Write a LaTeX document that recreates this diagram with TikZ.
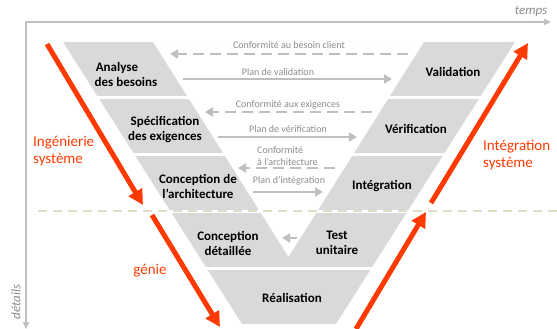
\documentclass[tikz,border=0pt]{standalone}
\usepackage{fontspec}
\setmainfont{Carlito}
\usetikzlibrary{arrows.meta, positioning}

\definecolor{vgray}{RGB}{217,217,217}
\definecolor{agray}{RGB}{191,191,191}
\definecolor{tgray}{RGB}{140,140,140}
\definecolor{vred}{RGB}{255,58,0}
\definecolor{vtan}{RGB}{224,220,200}

\begin{document}
\begin{tikzpicture}[
    x=1pt, y=-1pt,
    piece/.style={fill=vgray},
    box/.style={
        font=\fontsize{13}{15}\selectfont\bfseries, align=center, inner sep=0pt
    },
    note/.style={font=\fontsize{10}{12}\selectfont, text=tgray, inner sep=0pt},
    plan/.style={draw=agray, line width=2.5pt, -{Triangle[length=8pt,width=9pt]}},
    conf/.style={plan, dash pattern=on 11pt off 6pt},
    flow/.style={draw=vred, line width=5pt, -{Triangle[length=15pt,width=15pt]}},
    side/.style={font=\fontsize{15}{17}\selectfont, text=vred, align=left, inner sep=0pt},
    axis/.style={draw=agray, line width=1.5pt},
    axlbl/.style={font=\fontsize{13}{15}\selectfont\itshape, text=tgray, inner sep=0pt}
]
\useasboundingbox (0,0) rectangle (557,329);

% Axes
\coordinate (origin) at (26,22);
\coordinate (tend) at (551,22);
\coordinate (dend) at (26,329);
\draw[axis, {Triangle[length=7pt,width=6pt]}-{Triangle[length=7pt,width=6pt]}]
    (tend) -- (origin) -- (dend);
\node[axlbl] (temps) at (531,11) {temps};
\node[axlbl, rotate=90] (details) at (16,302) {détails};

% Gray V, cut into five bands
\foreach \t in {42,99,156,213,270}{
  \begin{scope}
    \clip (0,\t) rectangle (557,{\t+53});
    \fill[piece, even odd rule] (63,42) -- (515,42) -- (336,324) -- (242,324) -- cycle
        (153,42) -- (424,42) -- (288.5,257) -- cycle;
  \end{scope}
}

% Boundary between system and detail levels
\coordinate (sepl) at (38,211);
\coordinate (sepr) at (557,211);
\draw[vtan, line width=2.5pt, dash pattern=on 9pt off 6pt] (sepl) -- (sepr);

% Left branch
\node[box] (analyse) at (126,74) {Analyse\hspace*{18pt}\\des besoins};
\node[box] (specif) at (165,130) {Spécification\\des exigences};
\node[box] (archi) at (198,186) {Conception de\\l’architecture};
\node[box] (detail) at (228,243) {Conception\\détaillée};

% Bottom
\node[box] (real) at (292,298) {Réalisation};

% Right branch
\node[box] (unit) at (337,243) {Test\\unitaire};
\node[box] (integ) at (382,186) {Intégration};
\node[box] (verif) at (416,129) {Vérification};
\node[box] (valid) at (453,72) {Validation};

% Links across the V
\coordinate (c1r) at (408,54);  \coordinate (c1l) at (170,54);
\coordinate (p1l) at (183,79);  \coordinate (p1r) at (392,79);
\coordinate (c2r) at (372,112); \coordinate (c2l) at (205,112);
\coordinate (p2l) at (218,137); \coordinate (p2r) at (357,137);
\coordinate (c3r) at (335,168); \coordinate (c3l) at (238,168);
\coordinate (p3l) at (253,192); \coordinate (p3r) at (323,192);
\coordinate (c4r) at (297,238); \coordinate (c4l) at (282,238);

\draw[conf] (c1r) -- (c1l);
\draw[plan] (p1l) -- (p1r);
\draw[conf] (c2r) -- (c2l);
\draw[plan] (p2l) -- (p2r);
\draw[conf] (c3r) -- (c3l);
\draw[plan] (p3l) -- (p3r);
\draw[conf] (c4r) -- (c4l);

\node[note] (n1) at (289,45) {Conformité au besoin client};
\node[note] (n2) at (278,72) {Plan de validation};
\node[note] (n3) at (288,105) {Conformité aux exigences};
\node[note] (n4) at (288,129) {Plan de vérification};
\node[note, align=left, anchor=west] (n5) at (257,156) {Conformité\\à l’architecture};
\node[note] (n6) at (289,181) {Plan d’intégration};

% Red flows
\coordinate (fa) at (47,44);   \coordinate (fb) at (143,205);
\coordinate (fc) at (152,215); \coordinate (fd) at (220,327);
\coordinate (fe) at (356,329); \coordinate (ff) at (426,212);
\coordinate (fg) at (431,203); \coordinate (fh) at (528,43);
\draw[flow] (fa) -- (fb);
\draw[flow] (fc) -- (fd);
\draw[flow] (fe) -- (ff);
\draw[flow] (fg) -- (fh);

\node[side, anchor=west] (ingsys) at (33,151) {Ingénierie\\système};
\node[side] (genie) at (150,271) {génie};
\node[side, anchor=west] (intsys) at (483,155) {Intégration\\système};

\end{tikzpicture}
\end{document}
